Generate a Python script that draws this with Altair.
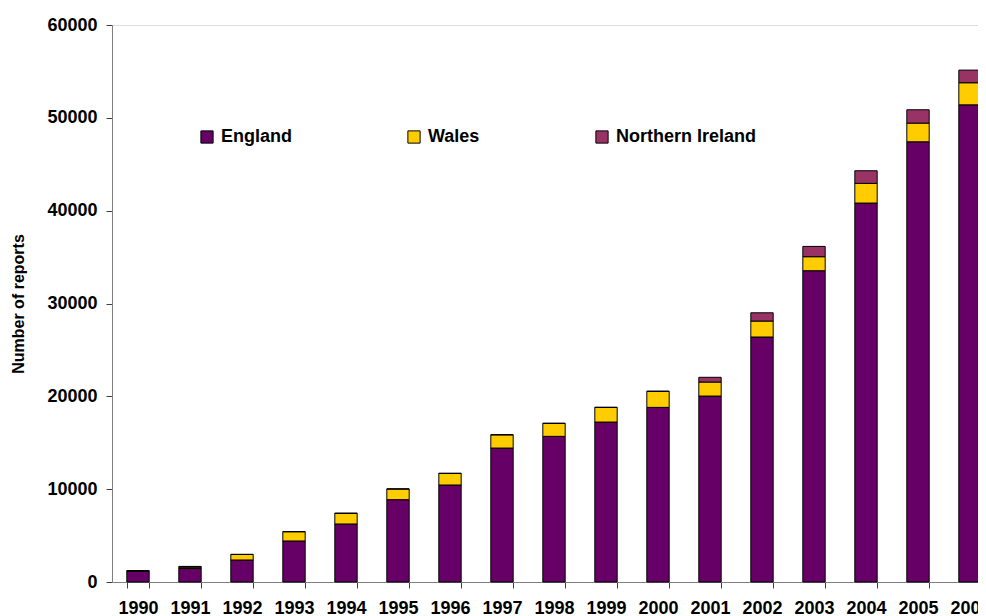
import altair as alt
import pandas as pd

years = [str(y) for y in range(1990, 2007)]
england = [1200, 1450, 2370, 4420, 6250, 8870, 10450, 14430, 15690, 17230,
           18810, 20030, 26390, 33530, 40820, 47420, 51400]
wales = [0, 150, 600, 1000, 1150, 1150, 1250, 1430, 1400, 1580,
         1730, 1510, 1720, 1510, 2120, 2010, 2380]
n_ireland = [0, 80, 0, 0, 0, 0, 0, 0, 0, 0,
             0, 510, 890, 1110, 1360, 1440, 1360]
series = ["England", "Wales", "Northern Ireland"]
colors = ["#660066", "#FFCC00", "#993366"]

rows = []
for i, y in enumerate(years):
    for k, (name, vals) in enumerate(zip(series, [england, wales, n_ireland])):
        rows.append({"year": y, "region": name, "reports": vals[i], "order": k})
df = pd.DataFrame(rows)

FONT = "Liberation Sans"

chart = alt.Chart(df).mark_bar(stroke="#000000", strokeWidth=1).encode(
    x=alt.X("year:N", sort=years, title=None,
            scale=alt.Scale(range=[0, 884], paddingInner=0.57, paddingOuter=0.285),
            axis=alt.Axis(labelAngle=0, tickBand="extent", labelFontSize=18,
                          labelFontWeight="bold", labelFont=FONT, labelColor="#000",
                          domainColor="#808080", tickColor="#404040", tickSize=6,
                          labelPadding=11, grid=False)),
    y=alt.Y("reports:Q", title="Number of reports",
            scale=alt.Scale(domain=[0, 60000], nice=False),
            axis=alt.Axis(values=[0, 10000, 20000, 30000, 40000, 50000, 60000],
                          format="d", labelFontSize=18, labelFontWeight="bold",
                          labelFont=FONT, labelColor="#000", domainColor="#808080",
                          tickColor="#404040", tickSize=6, labelPadding=9, grid=False,
                          titleFont=FONT, titleFontSize=16, titleFontWeight="bold",
                          titleColor="#000", titleX=-86)),
    color=alt.Color("region:N", sort=series,
                    scale=alt.Scale(domain=series, range=colors),
                    legend=alt.Legend(title=None, orient="none", legendX=86, legendY=103,
                                      direction="horizontal", symbolType="square",
                                      symbolSize=150, symbolStrokeColor="#000",
                                      symbolStrokeWidth=1, labelFontSize=18,
                                      labelFontWeight="bold", labelFont=FONT,
                                      labelColor="#000", columnPadding=113,
                                      labelOffset=5)),
    order=alt.Order("order:Q", sort="ascending"),
).properties(
    width=866, height=557,
    autosize=alt.AutoSizeParams(type="none"),
    padding={"left": 104, "top": 17, "right": 0, "bottom": 34},
).configure_view(stroke=None).configure(background="white")

chart.save("out.html", embed_options={"renderer": "svg", "actions": False})
